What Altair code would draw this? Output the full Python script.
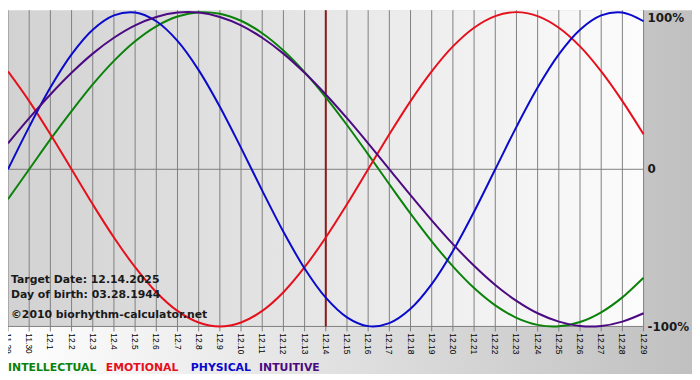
import altair as alt
import pandas as pd

days = ["11.29", "11.30", "12.1", "12.2", "12.3", "12.4", "12.5", "12.6", "12.7", "12.8",
        "12.9", "12.10", "12.11", "12.12", "12.13", "12.14", "12.15", "12.16", "12.17",
        "12.18", "12.19", "12.20", "12.21", "12.22", "12.23", "12.24", "12.25", "12.26",
        "12.27", "12.28", "12.29"]

intellectual = [-0.19, 0.0, 0.19, 0.37, 0.54, 0.69, 0.815, 0.91, 0.972, 0.999, 0.99,
                0.945, 0.866, 0.756, 0.618, 0.458, 0.282, 0.095, -0.095, -0.282, -0.458,
                -0.618, -0.756, -0.866, -0.945, -0.99, -0.999, -0.972, -0.91, -0.815, -0.69]
emotional = [0.623, 0.434, 0.223, 0.0, -0.223, -0.434, -0.623, -0.782, -0.901, -0.975, -1.0,
             -0.975, -0.901, -0.782, -0.623, -0.434, -0.223, 0.0, 0.223, 0.434, 0.623, 0.782,
             0.901, 0.975, 1.0, 0.975, 0.901, 0.782, 0.623, 0.434, 0.223]
physical = [0.0, 0.27, 0.52, 0.731, 0.888, 0.979, 0.998, 0.942, 0.817, 0.631, 0.398, 0.136,
            -0.136, -0.398, -0.631, -0.817, -0.942, -0.998, -0.979, -0.888, -0.731, -0.52,
            -0.27, 0.0, 0.27, 0.52, 0.731, 0.888, 0.979, 0.998, 0.942]
intuitive = [0.165, 0.325, 0.476, 0.614, 0.736, 0.837, 0.916, 0.969, 0.997, 0.997, 0.969,
             0.916, 0.837, 0.736, 0.614, 0.476, 0.325, 0.165, 0.0, -0.165, -0.325, -0.476,
             -0.614, -0.736, -0.837, -0.916, -0.969, -0.997, -0.997, -0.969, -0.916]

series_names = ["INTELLECTUAL", "EMOTIONAL", "PHYSICAL", "INTUITIVE"]
series_colors = ["#0a820a", "#e6101c", "#0a0acc", "#4b0a82"]
legend_x = [0, 99, 185, 254]
target_index = 15
info_lines = ["Target Date: 12.14.2025", "Day of birth: 03.28.1944", "\u00a92010 biorhythm-calculator.net"]
info_y = [276, 291, 311]
right_labels = ["100%", "0", "-100%"]
right_y = [8, 161, 321]

W = 643
H = 322

rows = []
for name, vals in zip(series_names, [intellectual, emotional, physical, intuitive]):
    for i, v in enumerate(vals):
        rows.append({"i": i, "v": v, "s": name})
df = pd.DataFrame(rows)
days_df = pd.DataFrame({"i": list(range(len(days))), "day": days})
one = pd.DataFrame({"a": [0]})

xs = alt.Scale(domain=[0, 30], range=[0, W], nice=False, zero=False)
ys = alt.Scale(domain=[-1, 1], range=[320, 2], nice=False, zero=False)

outer_grad = alt.Gradient(gradient="linear", x1=0, x2=1, y1=0, y2=0,
                          stops=[alt.GradientStop(color="#ffffff", offset=0),
                                 alt.GradientStop(color="#c0c0c0", offset=1)])
plot_grad = alt.Gradient(gradient="linear", x1=0, x2=1, y1=0, y2=0,
                         stops=[alt.GradientStop(color="#d2d2d2", offset=0),
                                alt.GradientStop(color="#fcfcfc", offset=1)])

bg = alt.Chart(one).mark_rect(fill=outer_grad).encode(
    x=alt.value(0), x2=alt.value(692), y=alt.value(0), y2=alt.value(368))
plotbg = alt.Chart(one).mark_rect(fill=plot_grad).encode(
    x=alt.value(0), x2=alt.value(W), y=alt.value(0), y2=alt.value(320))

grid = alt.Chart(days_df).mark_rule(color="#808080", strokeWidth=1).encode(
    x=alt.X("i:Q", scale=xs, axis=None), y=alt.value(0), y2=alt.value(325))

hl = alt.Chart(pd.DataFrame({"v": [0, -1]})).mark_rule(color="#808080", strokeWidth=1).encode(
    y=alt.Y("v:Q", scale=ys, axis=None), x=alt.value(0), x2=alt.value(W))

target = alt.Chart(pd.DataFrame({"i": [target_index]})).mark_rule(color="#8b1a1a", strokeWidth=2).encode(
    x=alt.X("i:Q", scale=xs, axis=None), y=alt.value(0), y2=alt.value(320))

lines = alt.Chart(df).mark_line(strokeWidth=2, interpolate="catmull-rom").encode(
    x=alt.X("i:Q", scale=xs, axis=None),
    y=alt.Y("v:Q", scale=ys, axis=None),
    color=alt.Color("s:N", scale=alt.Scale(domain=series_names, range=series_colors), legend=None),
)

xlabels = alt.Chart(days_df).mark_text(angle=90, align="left", baseline="middle",
                                       font="Liberation Sans", fontSize=8.5, color="#000000").encode(
    x=alt.X("i:Q", scale=xs, axis=None), y=alt.value(327), text="day:N")

layers = [bg, plotbg, grid, hl, target, lines, xlabels]

for txt, py in zip(right_labels, right_y):
    layers.append(alt.Chart(one).mark_text(align="left", baseline="middle", font="DejaVu Sans",
                                           fontWeight="bold", fontSize=12, color="#1a1a1a", text=txt).encode(
        x=alt.value(W + 4), y=alt.value(py)))

for txt, py in zip(info_lines, info_y):
    layers.append(alt.Chart(one).mark_text(align="left", baseline="alphabetic", font="DejaVu Sans",
                                           fontWeight="bold", fontSize=11, color="#1a1a1a", text=txt).encode(
        x=alt.value(3), y=alt.value(py)))

for name, col, px in zip(series_names, series_colors, legend_x):
    layers.append(alt.Chart(one).mark_text(align="left", baseline="alphabetic", font="DejaVu Sans",
                                           fontWeight="bold", fontSize=11, color=col, text=name).encode(
        x=alt.value(px), y=alt.value(365)))

chart = alt.layer(*layers).properties(
    width=W, height=H,
    padding={"left": 0, "top": 0, "right": 49, "bottom": 50},
    autosize=alt.AutoSizeParams(type="none"),
).configure_view(strokeWidth=0)

chart.save("out.html", embed_options={"renderer": "svg", "actions": False})
